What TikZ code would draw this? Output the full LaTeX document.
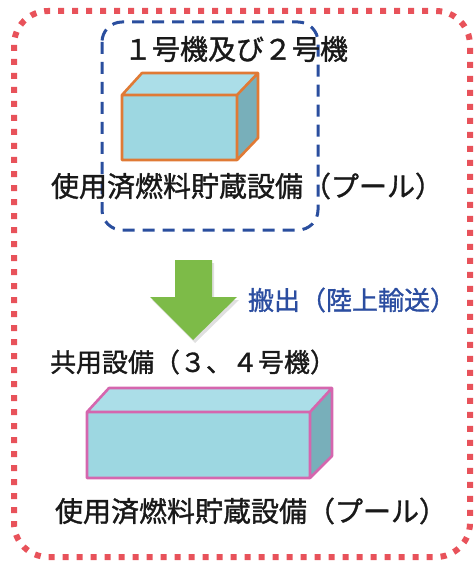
\documentclass[tikz,border=0pt]{standalone}
\usepackage{fontspec}
\setmainfont{Noto Sans CJK JP}
\newfontfamily\jpbold{Noto Sans CJK JP}[FakeBold=1.2]
\definecolor{redDot}{HTML}{E8525A}
\definecolor{blueDash}{HTML}{2A4E9E}
\definecolor{orangeEdge}{HTML}{E07A35}
\definecolor{pinkEdge}{HTML}{D566AE}
\definecolor{boxFront}{HTML}{9DD7E1}
\definecolor{boxTop}{HTML}{ABDEE8}
\definecolor{boxSide}{HTML}{78AFBA}
\definecolor{arrowGreen}{HTML}{7DBB48}
\definecolor{labelBlue}{HTML}{2B4DA0}
\tikzset{
  lbl/.style={inner sep=0pt, anchor=center, text=black!90},
  face/.style={line width=2.6pt, line join=round},
}
\begin{document}
\begin{tikzpicture}[x=1pt,y=-1pt]
\useasboundingbox (0,0) rectangle (475,564);
% outer red dotted frame
\draw[redDot, line width=6pt, dash pattern=on 6pt off 8pt, rounded corners=34pt]
  (14,11) rectangle (470,557);
% blue dashed group
\draw[blueDash, line width=3pt, dash pattern=on 12pt off 8pt, rounded corners=20pt]
  (102,22) rectangle (318,230);
% upper box (orange)
\fill[boxTop] (122,95) -- (142,73) -- (258,73) -- (237,95) -- cycle;
\fill[boxSide] (237,95) -- (258,73) -- (258,138) -- (237,160) -- cycle;
\fill[boxFront] (122,95) rectangle (237,160);
\draw[face, orangeEdge] (122,95) -- (142,73) -- (258,73) -- (258,138) -- (237,160) -- (122,160) -- cycle
  (122,95) -- (237,95) -- (258,73) (237,95) -- (237,160);
% lower box (pink)
\fill[boxTop] (87,412) -- (109,388) -- (332,388) -- (310,412) -- cycle;
\fill[boxSide] (310,412) -- (332,388) -- (332,456) -- (310,478) -- cycle;
\fill[boxFront] (87,412) rectangle (310,478);
\draw[face, pinkEdge] (87,412) -- (109,388) -- (332,388) -- (332,456) -- (310,478) -- (87,478) -- cycle
  (87,412) -- (310,412) -- (332,388) (310,412) -- (310,478);
% green arrow
\fill[black!12] (177,263) -- (214,263) -- (214,300) -- (239,300) -- (195,343) -- (152,300) -- (177,300) -- cycle;
\fill[arrowGreen] (175,260) -- (212,260) -- (212,297) -- (237,297) -- (193,340) -- (150,297) -- (175,297) -- cycle;
% texts
\node[lbl, font=\jpbold\fontsize{28}{32}\selectfont] (t12) at (236,49) {１号機及び２号機};
\node[lbl, font=\jpbold\fontsize{28}{32}\selectfont] (pool1) at (247,186) {使用済燃料貯蔵設備（プール）};
\node[lbl, font=\jpbold\fontsize{26}{30}\selectfont, text=labelBlue] (move) at (352,300) {搬出（陸上輸送）};
\node[lbl, font=\jpbold\fontsize{26}{30}\selectfont] (shared) at (193,362) {共用設備（３、４号機）};
\node[lbl, font=\jpbold\fontsize{28}{32}\selectfont] (pool2) at (251,511) {使用済燃料貯蔵設備（プール）};
\end{tikzpicture}
\end{document}
